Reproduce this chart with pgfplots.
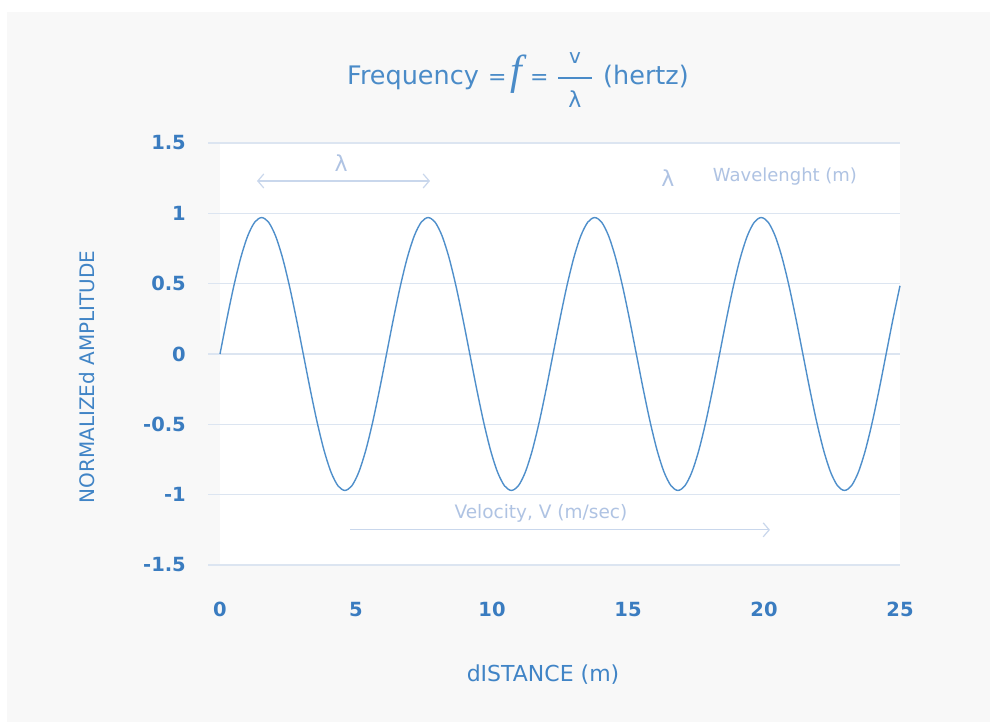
\documentclass[border=0pt]{standalone}
\usepackage{fontspec}
\setmainfont{DejaVu Sans}
\newfontfamily\serifit{Liberation Serif}
\usepackage{pgfplots}
\pgfplotsset{compat=1.18}
\usetikzlibrary{arrows.meta}
\definecolor{bggray}{HTML}{F8F8F8}
\definecolor{gridc}{HTML}{DCE5F1}
\definecolor{tickblue}{HTML}{3A7CC0}
\definecolor{labblue}{HTML}{4084C6}
\definecolor{titleblue}{HTML}{4A8BC8}
\definecolor{annot}{HTML}{AFC3E3}
\definecolor{annotl}{HTML}{C9D7EC}
\definecolor{curve}{HTML}{4F8FCB}
\begin{document}
\begin{tikzpicture}[x=1pt,y=1pt]
\fill[white] (0,0) rectangle (995,722);
\fill[bggray] (7,0) rectangle (990,710);
\useasboundingbox (0,0) rectangle (995,722);
\begin{axis}[
  at={(220pt,157pt)}, anchor=south west,
  scale only axis, width=680pt, height=422pt,
  xmin=0, xmax=25, ymin=-1.5, ymax=1.5,
  axis line style={draw=none},
  axis background/.style={fill=white},
  ymajorgrids,
  major grid style={gridc, line width=1.5pt},
  xtick={0,5,10,15,20,25},
  xticklabels={0,5,10,15,20,25},
  ytick={-1.5,-1,-0.5,0,0.5,1,1.5},
  yticklabels={-1.5,-1,-0.5,0,0.5,1,1.5},
  xtick style={draw=none},
  ytick style={draw=gridc, line width=1.5pt},
  xtick align=inside,
  ytick align=outside,
  major tick length=12pt,
  ytick pos=left, xtick pos=bottom,
  tick label style={text=tickblue, font=\fontsize{19.5}{22}\selectfont\bfseries, inner sep=0pt},
  xticklabel style={anchor=north},
  yticklabel style={anchor=east},
  xticklabel shift=37pt,
  yticklabel shift=22pt,
  clip=false,
]
\addplot[curve, line width=1.4pt, smooth] coordinates {
(0,0) (0.2551,0.2511) (0.5102,0.4850) (0.7653,0.6859) (1.0204,0.8400) (1.2755,0.9369) (1.5306,0.97) (1.7857,0.9369) (2.0408,0.8400) (2.2959,0.6859) (2.5510,0.4850) (2.8061,0.2511) (3.0612,0) (3.3163,-0.2511) (3.5714,-0.4850) (3.8265,-0.6859) (4.0816,-0.8400) (4.3367,-0.9369) (4.5918,-0.97) (4.8469,-0.9369) (5.1020,-0.8400) (5.3571,-0.6859) (5.6122,-0.4850) (5.8673,-0.2511)
(6.1224,0) (6.3776,0.2511) (6.6327,0.4850) (6.8878,0.6859) (7.1429,0.8400) (7.3980,0.9369) (7.6531,0.97) (7.9082,0.9369) (8.1633,0.8400) (8.4184,0.6859) (8.6735,0.4850) (8.9286,0.2511) (9.1837,0) (9.4388,-0.2511) (9.6939,-0.4850) (9.9490,-0.6859) (10.2041,-0.8400) (10.4592,-0.9369) (10.7143,-0.97) (10.9694,-0.9369) (11.2245,-0.8400) (11.4796,-0.6859) (11.7347,-0.4850) (11.9898,-0.2511)
(12.2449,0) (12.5000,0.2511) (12.7551,0.4850) (13.0102,0.6859) (13.2653,0.8400) (13.5204,0.9369) (13.7755,0.97) (14.0306,0.9369) (14.2857,0.8400) (14.5408,0.6859) (14.7959,0.4850) (15.0510,0.2511) (15.3061,0) (15.5612,-0.2511) (15.8163,-0.4850) (16.0714,-0.6859) (16.3265,-0.8400) (16.5816,-0.9369) (16.8367,-0.97) (17.0918,-0.9369) (17.3469,-0.8400) (17.6020,-0.6859) (17.8571,-0.4850) (18.1122,-0.2511)
(18.3673,0) (18.6224,0.2511) (18.8776,0.4850) (19.1327,0.6859) (19.3878,0.8400) (19.6429,0.9369) (19.8980,0.97) (20.1531,0.9369) (20.4082,0.8400) (20.6633,0.6859) (20.9184,0.4850) (21.1735,0.2511) (21.4286,0) (21.6837,-0.2511) (21.9388,-0.4850) (22.1939,-0.6859) (22.4490,-0.8400) (22.7041,-0.9369) (22.9592,-0.97) (23.2143,-0.9369) (23.4694,-0.8400) (23.7245,-0.6859) (23.9796,-0.4850) (24.2347,-0.2511)
(24.4898,0) (24.7449,0.2511) (25.0000,0.4850)
};
% annotations
\draw[annotl, line width=1.2pt, {Straight Barb[length=6pt,width=14pt]}-{Straight Barb[length=6pt,width=14pt]}] (axis cs:1.36,1.23) -- (axis cs:7.72,1.23);
\node[annot, font=\fontsize{22}{26}\selectfont] at (axis cs:4.45,1.36) {λ};
\node[annot, font=\fontsize{22}{26}\selectfont] at (axis cs:16.47,1.25) {λ};
\node[annot, font=\fontsize{18}{21}\selectfont] at (axis cs:20.77,1.262) {Wavelenght (m)};
\node[annot, font=\fontsize{18.5}{22}\selectfont] at (axis cs:11.8,-1.13) {Velocity, V (m/sec)};
\draw[annotl, line width=1.2pt, -{Straight Barb[length=6pt,width=14pt]}] (axis cs:4.78,-1.25) -- (axis cs:20.22,-1.25);
\end{axis}
% axis labels
\node[labblue, rotate=90, font=\fontsize{20}{23}\selectfont] at (87,345) {NORMALIZEd AMPLITUDE};
\node[labblue, font=\fontsize{22}{26}\selectfont] at (543,47) {dISTANCE (m)};
% title
\node[titleblue, anchor=base west, inner sep=0pt, font=\fontsize{25.5}{30}\selectfont] at (347,637) {Frequency};
\node[titleblue, anchor=base west, inner sep=0pt, font=\fontsize{22}{26}\selectfont] at (488,637) {=};
\node[titleblue, anchor=base west, inner sep=0pt, font=\fontsize{42}{46}\selectfont\serifit\itshape] at (510,637) {f};
\node[titleblue, anchor=base west, inner sep=0pt, font=\fontsize{22}{26}\selectfont] at (530,637) {=};
\draw[titleblue, line width=1.1pt] (558,644) -- (592,644);
\node[titleblue, font=\fontsize{20}{24}\selectfont] at (575,664) {v};
\node[titleblue, font=\fontsize{22}{26}\selectfont] at (575,623) {λ};
\node[titleblue, anchor=base west, inner sep=0pt, font=\fontsize{25.5}{30}\selectfont] at (603,637) {(hertz)};
\end{tikzpicture}
\end{document}
